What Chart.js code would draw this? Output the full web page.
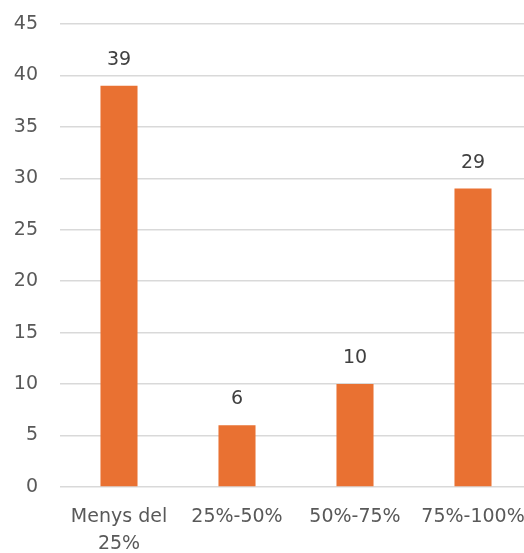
<!DOCTYPE html>
<html>
<head>
<meta charset="utf-8">
<script src="https://cdn.jsdelivr.net/npm/chart.js@4/dist/chart.umd.min.js"></script>
<style>
  html, body { margin: 0; padding: 0; background: #fff; overflow: hidden; }
  #wrap { width: 532px; height: 553px; }
</style>
</head>
<body>
<div id="wrap"><canvas id="c" width="532" height="553"></canvas></div>
<script>
const categories = [['Menys del', '25%'], '25%-50%', '50%-75%', '75%-100%'];
const values = [39, 6, 10, 29];
const yMin = 0, yMax = 45, yStep = 5;

const FONT = '"DejaVu Sans", sans-serif';
const BAR = '#E97132';
const TEXT = '#595959';

// Writes each bar's value above it
const valueLabels = {
  id: 'valueLabels',
  afterDatasetsDraw(chart) {
    const ctx = chart.ctx;
    const meta = chart.getDatasetMeta(0);
    ctx.save();
    ctx.font = '19px ' + FONT;
    ctx.fillStyle = '#404040';
    ctx.textAlign = 'center';
    ctx.textBaseline = 'middle';
    meta.data.forEach((bar, i) => {
      ctx.fillText(String(values[i]), bar.x, bar.y - 26);
    });
    ctx.restore();
  }
};

new Chart(document.getElementById('c'), {
  type: 'bar',
  data: {
    labels: categories,
    datasets: [{
      data: values,
      backgroundColor: BAR,
      borderWidth: 0,
      barPercentage: 1,
      categoryPercentage: 0.314
    }]
  },
  options: {
    responsive: false,
    animation: false,
    devicePixelRatio: 1,
    layout: { padding: { top: 24, right: 0, left: 0, bottom: 0 } },
    plugins: { legend: { display: false }, tooltip: { enabled: false } },
    scales: {
      x: {
        grid: { display: false, drawTicks: false },
        border: { display: false },
        ticks: {
          color: TEXT,
          font: { family: FONT, size: 19, lineHeight: 1.4 },
          padding: 17,
          maxRotation: 0,
          autoSkip: false
        },
        afterFit(scale) {
          scale.height = 66;
          scale.paddingLeft = 0;
          scale.paddingRight = 0;
        }
      },
      y: {
        min: yMin,
        max: yMax,
        grid: { color: '#D9D9D9', lineWidth: 1.5, drawTicks: false },
        border: { display: false },
        ticks: {
          stepSize: yStep,
          color: TEXT,
          font: { family: FONT, size: 19 },
          padding: 22
        },
        afterFit(scale) {
          scale.width = 60;
          scale.paddingTop = 0;
          scale.paddingBottom = 0;
        }
      }
    }
  },
  plugins: [valueLabels]
});
</script>
</body>
</html>
